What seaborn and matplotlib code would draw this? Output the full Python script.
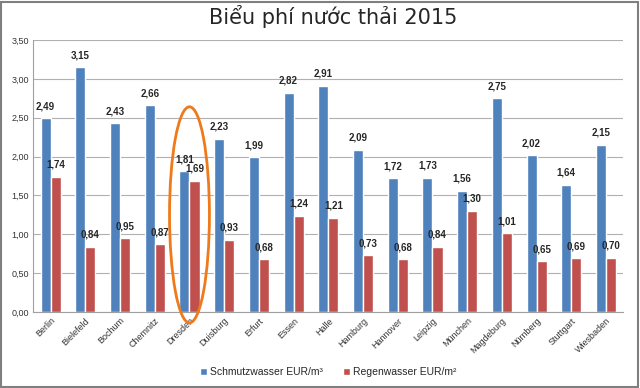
import pandas as pd
import matplotlib.pyplot as plt
import seaborn as sns
from matplotlib.patches import Ellipse, Rectangle

cities = ["Berlin", "Bielefeld", "Bochum", "Chemnitz", "Dresden", "Duisburg", "Erfurt",
          "Essen", "Halle", "Hamburg", "Hannover", "Leipzig", "München", "Magdeburg",
          "Nürnberg", "Stuttgart", "Wiesbaden"]
schmutz = [2.49, 3.15, 2.43, 2.66, 1.81, 2.23, 1.99, 2.82, 2.91, 2.09, 1.72, 1.73, 1.56, 2.75, 2.02, 1.64, 2.15]
regen = [1.74, 0.84, 0.95, 0.87, 1.69, 0.93, 0.68, 1.24, 1.21, 0.73, 0.68, 0.84, 1.30, 1.01, 0.65, 0.69, 0.70]
series = ["Schmutzwasser EUR/m³", "Regenwasser EUR/m²"]

df = pd.DataFrame({"Stadt": cities * 2,
                   "Wert": schmutz + regen,
                   "Art": [series[0]] * len(cities) + [series[1]] * len(cities)})

sns.set_style("white")
plt.rcParams["font.family"] = ["Liberation Sans", "DejaVu Sans"]

fig = plt.figure(figsize=(6.4, 3.88), dpi=100)
ax = fig.add_axes([0.052, 0.196, 0.922, 0.701])

sns.barplot(data=df, x="Stadt", y="Wert", hue="Art", palette=["#4F81BD", "#C0504D"],
            width=0.58, saturation=1, ax=ax)

for c in ax.containers:
    ax.bar_label(c, labels=[f"{v:.2f}".replace(".", ",") for v in c.datavalues],
                 padding=5, fontsize=7, fontweight="bold")

ax.set_ylim(0, 3.5)
ax.set_yticks([i * 0.5 for i in range(8)])
ax.set_yticklabels([f"{i * 0.5:.2f}".replace(".", ",") for i in range(8)], fontsize=6.5, color="#333333")
ax.set_xlim(-0.5, len(cities) - 0.5)
ax.set_xticks(range(len(cities)))
ax.set_xticklabels(cities, rotation=45, ha="right", rotation_mode="anchor", fontsize=6.5, color="#333333")
ax.yaxis.grid(True, color="#b0b0b0", linewidth=0.8)
ax.set_axisbelow(True)
for s in ["top", "right"]:
    ax.spines[s].set_visible(False)
ax.spines["left"].set_color("#a0a0a0")
ax.spines["bottom"].set_color("#a0a0a0")
ax.tick_params(axis="both", length=0, pad=3)
ax.set_xlabel("")
ax.set_ylabel("")

ax.legend(loc="center", bbox_to_anchor=(0.5, -0.222), ncol=2, frameon=False,
          fontsize=7.5, handlelength=0.6, handleheight=0.6, handletextpad=0.3,
          columnspacing=2.0)

fig.text(0.52, 0.958, "Biểu phí nước thải 2015", fontsize=15, ha="center", va="center",
         family=["DejaVu Sans"])

# orange highlight around Dresden
ax.add_patch(Ellipse((4, 1.25), 1.15, 2.78, fill=False, edgecolor="#F07A1A",
                     linewidth=2, clip_on=False, zorder=5))

fig.patches.append(Rectangle((0.002, 0.003), 0.995, 0.992, transform=fig.transFigure,
                             fill=False, edgecolor="#7f7f7f", linewidth=1.5))

fig.savefig("out.png", dpi=100)
